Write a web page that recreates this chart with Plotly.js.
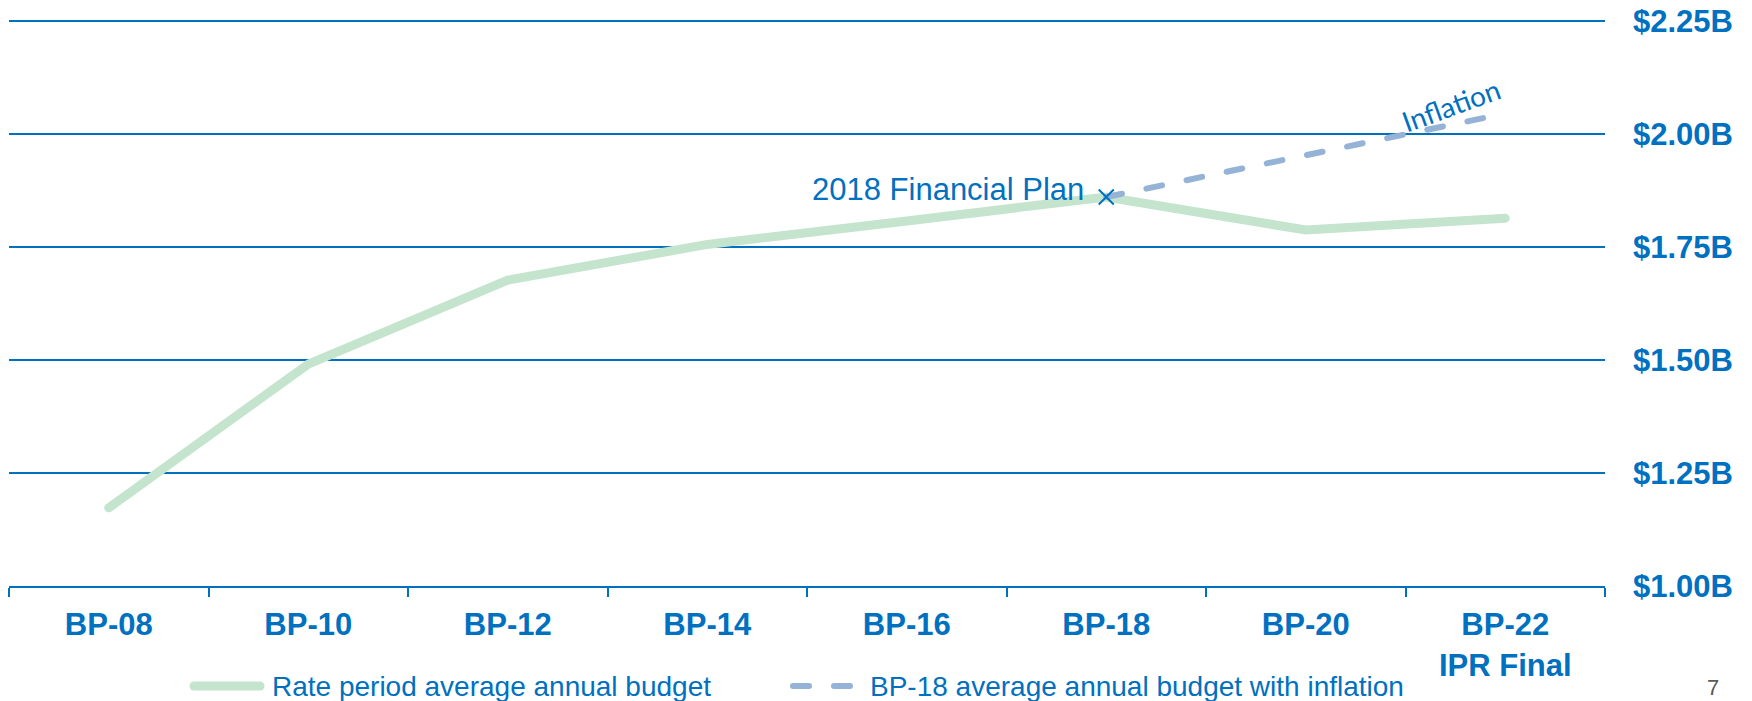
<!DOCTYPE html>
<html><head><meta charset="utf-8">
<script src="https://cdn.plot.ly/plotly-3.0.1.min.js"></script>
<style>
html,body{margin:0;padding:0;background:#fff;}
#chart{width:1752px;height:701px;}
.scatterlayer .js-line{stroke-linecap:round;}
.shapelayer path{stroke-linecap:round;}
</style></head><body><div id="chart"></div>
<script>
// ---- data ----
const categories = ['BP-08','BP-10','BP-12','BP-14','BP-16','BP-18','BP-20','BP-22'];
const categoryLabels = ['BP-08','BP-10','BP-12','BP-14','BP-16','BP-18','BP-20','BP-22<br>IPR Final'];
const rateBudget = [1.173, 1.491, 1.677, 1.756, 1.808, 1.861, 1.788, 1.814];
const inflationCats = ['BP-18','BP-20','BP-22'];
const inflationBudget = [1.861, 1.954, 2.046];
const planCats = ['BP-18'];
const planValues = [1.861];
const yTickVals = [1.00, 1.25, 1.50, 1.75, 2.00, 2.25];
const yTickText = ['$1.00B','$1.25B','$1.50B','$1.75B','$2.00B','$2.25B'];
const seriesNames = ['Rate period average annual budget','BP-18 average annual budget with inflation'];
const planLabel = '2018 Financial Plan';
const inflationLabel = 'Inflation';
const pageNumber = '7';

// ---- styling ----
const BLUE = '#0070C0', GREEN = '#C4E4CE', STEEL = '#95B3D7';
const W = 1752, H = 701;
const M = {l: 9, r: 147, t: 19, b: 115};
const pw = W - M.l - M.r, ph = H - M.t - M.b;
const px = v => (v - M.l) / pw;
const py = v => 1 - (v - M.t) / ph;
const ARIAL = 'Liberation Sans, Arial, sans-serif';

const traces = [
  {x: categories, y: rateBudget, type: 'scatter', mode: 'lines', name: seriesNames[0],
   line: {color: GREEN, width: 9}, showlegend: false},
  {x: inflationCats, y: inflationBudget, type: 'scatter', mode: 'lines', name: seriesNames[1],
   line: {color: STEEL, width: 6, dash: '16px,25px'}, showlegend: false},
  {x: planCats, y: planValues, type: 'scatter', mode: 'markers', name: planLabel,
   marker: {symbol: 'x-thin', size: 15, color: BLUE, line: {color: BLUE, width: 2}}, showlegend: false}
];

const layout = {
  width: W, height: H,
  margin: M,
  paper_bgcolor: '#fff', plot_bgcolor: '#fff',
  showlegend: false,
  font: {family: ARIAL, color: BLUE},
  xaxis: {
    type: 'category', range: [-0.5, 7.5], tickmode: 'array',
    tickvals: categories, ticktext: categoryLabels,
    tickson: 'boundaries', ticks: 'outside', ticklen: 9, tickwidth: 2, tickcolor: BLUE,
    showline: true, linecolor: BLUE, linewidth: 2, showgrid: false, zeroline: false,
    ticklabelstandoff: 10,
    tickfont: {family: ARIAL, size: 31, color: BLUE, weight: 'bold'},
    fixedrange: true
  },
  yaxis: {
    range: [1.0, 2.255], side: 'right', tickmode: 'array', tickvals: yTickVals, ticktext: yTickText,
    showgrid: true, gridcolor: BLUE, gridwidth: 2, zeroline: false, showline: false, ticks: '',
    ticklabelstandoff: 27,
    tickfont: {family: ARIAL, size: 31, color: BLUE, weight: 'bold'},
    fixedrange: true
  },
  shapes: [
    {type: 'line', xref: 'paper', yref: 'paper', x0: px(194), x1: px(260), y0: py(686), y1: py(686),
     line: {color: GREEN, width: 9}},
    {type: 'line', xref: 'paper', yref: 'paper', x0: px(793), x1: px(853), y0: py(686), y1: py(686),
     line: {color: STEEL, width: 6, dash: '16px,25px'}}
  ],
  annotations: [
    {x: planCats[0], y: planValues[0], xref: 'x', yref: 'y', text: planLabel, showarrow: false,
     xanchor: 'right', yanchor: 'middle', xshift: -20, yshift: 8,
     font: {family: ARIAL, size: 31, color: BLUE}},
    {x: px(1451), y: py(105), xref: 'paper', yref: 'paper', text: inflationLabel, showarrow: false,
     textangle: -20, xanchor: 'center', yanchor: 'middle',
     font: {family: 'Lato, sans-serif', size: 28, color: BLUE}},
    {x: px(270), y: py(686), xref: 'paper', yref: 'paper', text: seriesNames[0], showarrow: false,
     xanchor: 'left', yanchor: 'middle', font: {family: ARIAL, size: 28, color: BLUE}},
    {x: px(868), y: py(686), xref: 'paper', yref: 'paper', text: seriesNames[1], showarrow: false,
     xanchor: 'left', yanchor: 'middle', font: {family: ARIAL, size: 28, color: BLUE}},
    {x: px(1713), y: py(701), xref: 'paper', yref: 'paper', text: pageNumber, showarrow: false,
     xanchor: 'center', yanchor: 'bottom', borderpad: 0, yshift: 0,
     font: {family: ARIAL, size: 22, color: '#595959'}}
  ]
};

Plotly.newPlot('chart', traces, layout, {displayModeBar: false, staticPlot: true});
</script></body></html>
